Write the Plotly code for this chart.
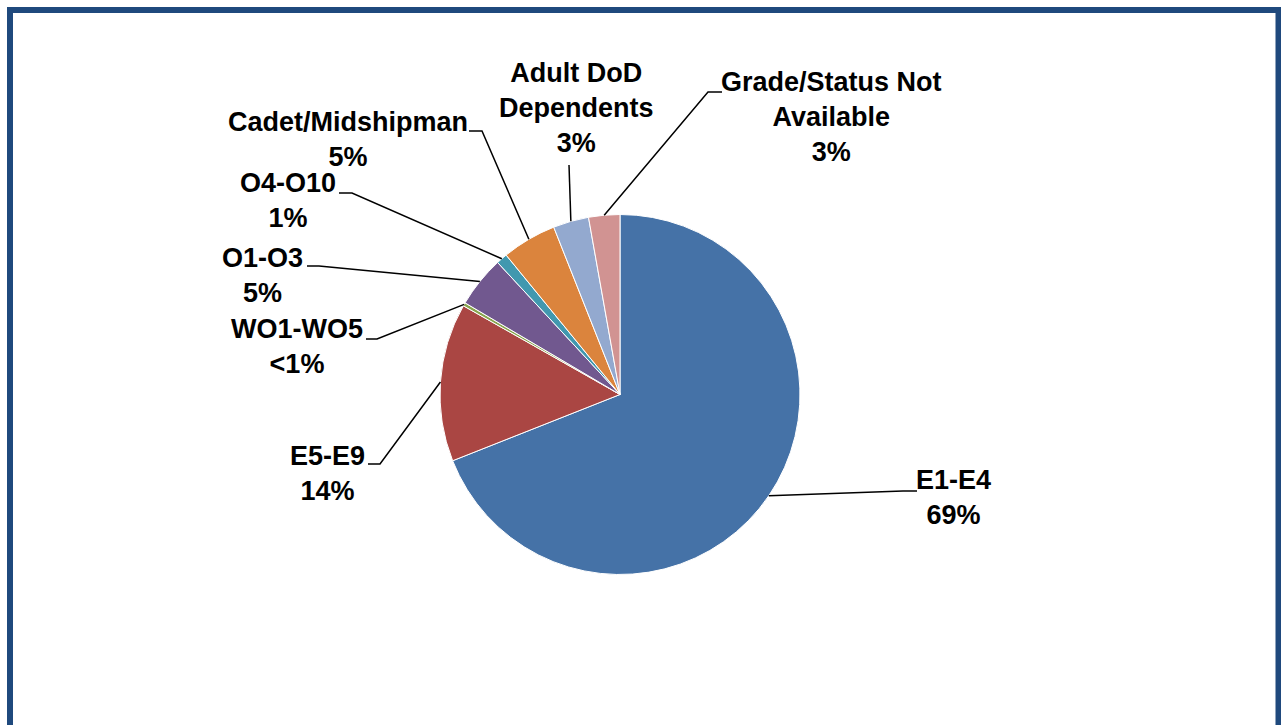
import math
import plotly.graph_objects as go

# Share of cases by grade / status (percent)
categories = ["E1-E4", "E5-E9", "WO1-WO5", "O1-O3", "O4-O10",
              "Cadet/Midshipman", "Adult DoD Dependents", "Grade/Status Not Available"]
shares = [69.0, 14.2, 0.3, 4.6, 1.0, 4.9, 3.2, 2.8]
share_labels = ["69%", "14%", "<1%", "5%", "1%", "5%", "3%", "3%"]
label_names = ["E1-E4", "E5-E9", "WO1-WO5", "O1-O3", "O4-O10",
               "Cadet/Midshipman", "Adult DoD<br>Dependents", "Grade/Status Not<br>Available"]
colors = ["#4572A7", "#AA4643", "#89A54E", "#71588F", "#4198AF",
          "#DB843D", "#93A9CF", "#D19392"]

W, H = 1281, 725
CX, CY, R = 620, 394.5, 180  # pie centre and radius in pixels


def px(x):
    return x / W


def py(y):
    return 1 - y / H


# label block centres and leader-line bend points (pixels)
label_pos = [(953, 498), (327, 473), (297, 346), (262, 275),
             (288, 200), (348, 139), (576, 108), (831, 117)]
leader_path = [
    [(903, 491), (917, 491)],
    [(380, 464), (368, 464)],
    [(377, 339), (366, 339)],
    [(319, 266), (307, 266)],
    [(352, 193), (339, 193)],
    [(482, 131), (469, 131)],
    [(569, 165)],
    [(708, 92), (722, 92)],
]

fig = go.Figure(go.Pie(
    labels=categories,
    values=shares,
    sort=False,
    direction="clockwise",
    rotation=0,
    textinfo="none",
    hoverinfo="label+percent",
    marker=dict(colors=colors, line=dict(color="white", width=1)),
    domain=dict(x=[px(CX - R), px(CX + R)], y=[py(CY + R), py(CY - R)]),
    showlegend=False,
))

total = sum(shares)
shapes = []
annotations = []
cum = 0.0
for i, v in enumerate(shares):
    mid = (cum + v / 2) / total * 2 * math.pi
    cum += v
    sx = CX + R * math.sin(mid)
    sy = CY - R * math.cos(mid)
    pts = [(sx, sy)] + leader_path[i]
    d = "M {} {}".format(px(pts[0][0]), py(pts[0][1]))
    for (x, y) in pts[1:]:
        d += " L {} {}".format(px(x), py(y))
    shapes.append(dict(type="path", xref="paper", yref="paper", path=d,
                       line=dict(color="black", width=1.5)))
    lx, ly = label_pos[i]
    annotations.append(dict(
        x=px(lx), y=py(ly), xref="paper", yref="paper",
        text=label_names[i] + "<br>" + share_labels[i],
        showarrow=False, xanchor="center", yanchor="middle", align="center",
        font=dict(family="Liberation Sans Narrow, Arial Narrow, Liberation Sans, Arial",
                  size=27, color="black", weight="bold"),
    ))

# blue frame
shapes.append(dict(type="rect", xref="paper", yref="paper",
                   x0=px(10), x1=px(1278.5), y0=py(760), y1=py(10),
                   line=dict(color="#1F497D", width=6), fillcolor="rgba(0,0,0,0)"))

fig.update_layout(
    width=W, height=H,
    margin=dict(l=0, r=0, t=0, b=0),
    paper_bgcolor="white", plot_bgcolor="white",
    shapes=shapes, annotations=annotations,
)

fig.write_html("out.html")
